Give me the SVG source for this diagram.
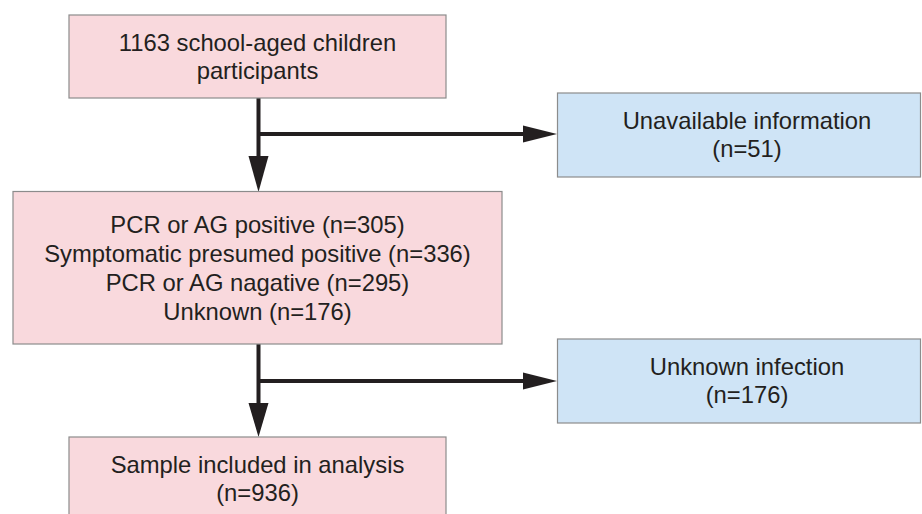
<svg xmlns="http://www.w3.org/2000/svg" width="922" height="514" viewBox="0 0 922 514">
<style>
.pink{fill:#f9d9dd;stroke:#8c8c8c;stroke-width:1.2}
.blue{fill:#cfe4f6;stroke:#8c8c8c;stroke-width:1.2}
text{font-family:"Liberation Sans",Arial,sans-serif;font-size:23.8px;fill:#231f20;text-anchor:middle}
.ln{stroke:#231f20;stroke-width:4;fill:none}
.ah{fill:#231f20}
</style>
<rect width="922" height="514" fill="#ffffff"/>
<g id="connectors">
<path class="ln" d="M258.5 97 V160 M256.5 134 H527"/>
<polygon class="ah" points="248.5,156 268.5,156 258.5,192"/>
<polygon class="ah" points="523,125.5 557,134 523,142.5"/>
<path class="ln" d="M258.5 344 V407 M256.5 381 H527"/>
<polygon class="ah" points="248.5,403 268.5,403 258.5,437"/>
<polygon class="ah" points="523,372.5 557,381 523,389.5"/>
</g>
<g id="node-participants">
<rect class="pink" x="69" y="15" width="377" height="83"/>
<text x="257.5" y="51">1163 school-aged children</text>
<text x="257.5" y="79">participants</text>
</g>
<g id="node-unavailable">
<rect class="blue" x="557.5" y="93" width="363" height="84"/>
<text x="747" y="129">Unavailable information</text>
<text x="747" y="157">(n=51)</text>
</g>
<g id="node-results">
<rect class="pink" x="13" y="191.5" width="489" height="152.5"/>
<text x="257.5" y="233">PCR or AG positive (n=305)</text>
<text x="257.5" y="262">Symptomatic presumed positive (n=336)</text>
<text x="257.5" y="291">PCR or AG nagative (n=295)</text>
<text x="257.5" y="320">Unknown (n=176)</text>
</g>
<g id="node-unknown-infection">
<rect class="blue" x="557.5" y="339" width="363" height="84"/>
<text x="747" y="375">Unknown infection</text>
<text x="747" y="403">(n=176)</text>
</g>
<g id="node-sample">
<rect class="pink" x="69" y="437" width="377" height="90"/>
<text x="257.5" y="473">Sample included in analysis</text>
<text x="257.5" y="501">(n=936)</text>
</g>
</svg>
